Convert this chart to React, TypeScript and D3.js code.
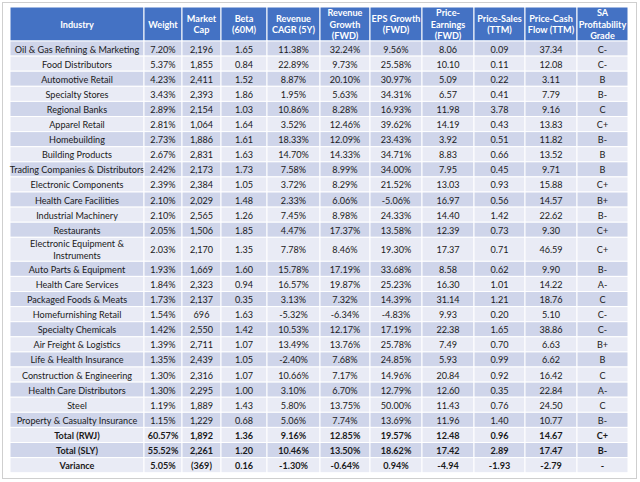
import React from "react";
import * as d3 from "d3";

const industries = [
  "Oil & Gas Refining & Marketing",
  "Food Distributors",
  "Automotive Retail",
  "Specialty Stores",
  "Regional Banks",
  "Apparel Retail",
  "Homebuilding",
  "Building Products",
  "Trading Companies & Distributors",
  "Electronic Components",
  "Health Care Facilities",
  "Industrial Machinery",
  "Restaurants",
  "Electronic Equipment &\nInstruments",
  "Auto Parts & Equipment",
  "Health Care Services",
  "Packaged Foods & Meats",
  "Homefurnishing Retail",
  "Specialty Chemicals",
  "Air Freight & Logistics",
  "Life & Health Insurance",
  "Construction & Engineering",
  "Health Care Distributors",
  "Steel",
  "Property & Casualty Insurance",
  "Total (RWJ)",
  "Total (SLY)",
  "Variance",
];

const weight = [7.2, 5.37, 4.23, 3.43, 2.89, 2.81, 2.73, 2.67, 2.42, 2.39, 2.1, 2.1, 2.05, 2.03, 1.93, 1.84, 1.73, 1.54, 1.42, 1.39, 1.35, 1.3, 1.3, 1.19, 1.15, 60.57, 55.52, 5.05];
const marketCap = [2196, 1855, 2411, 2393, 2154, 1064, 1886, 2831, 2173, 2384, 2029, 2565, 1506, 2170, 1669, 2323, 2137, 696, 2550, 2711, 2439, 2316, 2295, 1889, 1229, 1892, 2261, -369];
const beta = [1.65, 0.84, 1.52, 1.86, 1.03, 1.64, 1.61, 1.63, 1.73, 1.05, 1.48, 1.26, 1.85, 1.35, 1.6, 0.94, 0.35, 1.63, 1.42, 1.07, 1.05, 1.07, 1.0, 1.43, 0.68, 1.36, 1.2, 0.16];
const revenueCagr = [11.38, 22.89, 8.87, 1.95, 10.86, 3.52, 18.33, 14.7, 7.58, 3.72, 2.33, 7.45, 4.47, 7.78, 15.78, 16.57, 3.13, -5.32, 10.53, 13.49, -2.4, 10.66, 3.1, 5.8, 5.06, 9.16, 10.46, -1.3];
const revenueGrowth = [32.24, 9.73, 20.1, 5.63, 8.28, 12.46, 12.09, 14.33, 8.99, 8.29, 6.06, 8.98, 17.37, 8.46, 17.19, 19.87, 7.32, -6.34, 12.17, 13.76, 7.68, 7.17, 6.7, 13.75, 7.74, 12.85, 13.5, -0.64];
const epsGrowth = [9.56, 25.58, 30.97, 34.31, 16.93, 39.62, 23.43, 34.71, 34.0, 21.52, -5.06, 24.33, 13.58, 19.3, 33.68, 25.23, 14.39, -4.83, 17.19, 25.78, 24.85, 14.96, 12.79, 50.0, 13.69, 19.57, 18.62, 0.94];
const priceEarnings = [8.06, 10.1, 5.09, 6.57, 11.98, 14.19, 3.92, 8.83, 7.95, 13.03, 16.97, 14.4, 12.39, 17.37, 8.58, 16.3, 31.14, 9.93, 22.38, 7.49, 5.93, 20.84, 12.6, 11.43, 11.96, 12.48, 17.42, -4.94];
const priceSales = [0.09, 0.11, 0.22, 0.41, 3.78, 0.43, 0.51, 0.66, 0.45, 0.93, 0.56, 1.42, 0.73, 0.71, 0.62, 1.01, 1.21, 0.2, 1.65, 0.7, 0.99, 0.92, 0.35, 0.76, 1.4, 0.96, 2.89, -1.93];
const priceCashFlow = [37.34, 12.08, 3.11, 7.79, 9.16, 13.83, 11.82, 13.52, 9.71, 15.88, 14.57, 22.62, 9.3, 46.59, 9.9, 14.22, 18.76, 5.1, 38.86, 6.63, 6.62, 16.42, 22.84, 24.5, 10.77, 14.67, 17.47, -2.79];
const profitabilityGrade = ["C-", "C-", "B", "B-", "C", "C+", "B-", "B", "B", "C+", "B+", "B-", "C+", "C+", "B-", "A-", "C", "C-", "C-", "B+", "B", "C", "A-", "C", "B-", "C+", "B-", "-"];

const headers = [
  ["Industry"],
  ["Weight"],
  ["Market", "Cap"],
  ["Beta", "(60M)"],
  ["Revenue", "CAGR (5Y)"],
  ["Revenue", "Growth", "(FWD)"],
  ["EPS Growth", "(FWD)"],
  ["Price-", "Earnings", "(FWD)"],
  ["Price-Sales", "(TTM)"],
  ["Price-Cash", "Flow (TTM)"],
  ["SA", "Profitability", "Grade"],
];

const locale = d3.formatLocale({ decimal: ".", thousands: ",", grouping: [3], currency: ["$", ""], minus: "-" });
const num2 = locale.format(".2f");
const pct = (v: number) => num2(v) + "%";
const capFmt = (v: number) => (v < 0 ? `(${locale.format(",")(-v)})` : locale.format(",")(v));

const columns: string[][] = [
  industries,
  weight.map(pct),
  marketCap.map(capFmt),
  beta.map(num2),
  revenueCagr.map(pct),
  revenueGrowth.map(pct),
  epsGrowth.map(pct),
  priceEarnings.map(num2),
  priceSales.map(num2),
  priceCashFlow.map(num2),
  profitabilityGrade,
];

// layout
const colEdges = [10, 144, 182, 221, 267, 320, 370, 422, 474, 525, 577, 628];
const headerTop = 7;
const headerBottom = 41;
const singleH = 15.1;
const doubleH = 24;
const font = "Lato, 'Open Sans', sans-serif";
const fontSize = 9.1;
const headerFill = "#4472C4";
const darkFill = "#CFD5EA";
const lightFill = "#E9EBF5";

export default function App() {
  const rowHeights = industries.map((s) => (s.includes("\n") ? doubleH : singleH));
  const rowTops: number[] = [];
  let acc = headerBottom;
  rowHeights.forEach((h) => {
    rowTops.push(acc);
    acc += h;
  });
  const nRows = industries.length;
  const nTotals = 3;

  return (
    <svg
      width={640}
      height={482}
      style={{ position: "absolute", left: 0, top: 0, background: "#fff" }}
      fontFamily={font}
    >
      <rect x={2.5} y={2.5} width={634} height={476} fill="#fff" stroke="#cfcfcf" strokeWidth={1} />
      {/* header */}
      {headers.map((lines, c) => {
        const x0 = colEdges[c];
        const x1 = colEdges[c + 1];
        const cx = (x0 + x1) / 2;
        const cy = (headerTop + headerBottom) / 2;
        const lh = 11.5;
        return (
          <g key={"h" + c}>
            <rect x={x0} y={headerTop} width={x1 - x0} height={headerBottom - headerTop} fill={headerFill} stroke="#fff" strokeWidth={1} />
            {lines.map((t, i) => (
              <text
                key={i}
                x={cx}
                y={cy + (i - (lines.length - 1) / 2) * lh}
                textAnchor="middle"
                dominantBaseline="central"
                fill="#fff"
                fontWeight="bold"
                fontSize={fontSize}
              >
                {t}
              </text>
            ))}
          </g>
        );
      })}
      {/* body */}
      {industries.map((_, r) => {
        const y = rowTops[r];
        const h = rowHeights[r];
        const fill = r % 2 === 0 ? darkFill : lightFill;
        const bold = r >= nRows - nTotals;
        return (
          <g key={"r" + r}>
            {columns.map((col, c) => {
              const x0 = colEdges[c];
              const x1 = colEdges[c + 1];
              const lines = col[r].split("\n");
              const lh = 12;
              return (
                <g key={c}>
                  <rect x={x0} y={y} width={x1 - x0} height={h} fill={fill} stroke="#fff" strokeWidth={1} />
                  {lines.map((t, i) => (
                    <text
                      key={i}
                      x={(x0 + x1) / 2}
                      y={y + h / 2 + (i - (lines.length - 1) / 2) * lh + 0.5}
                      textAnchor="middle"
                      dominantBaseline="central"
                      fill="#1a1a1a"
                      fontWeight={bold ? "bold" : "normal"}
                      fontSize={fontSize}
                    >
                      {t}
                    </text>
                  ))}
                </g>
              );
            })}
          </g>
        );
      })}
    </svg>
  );
}
